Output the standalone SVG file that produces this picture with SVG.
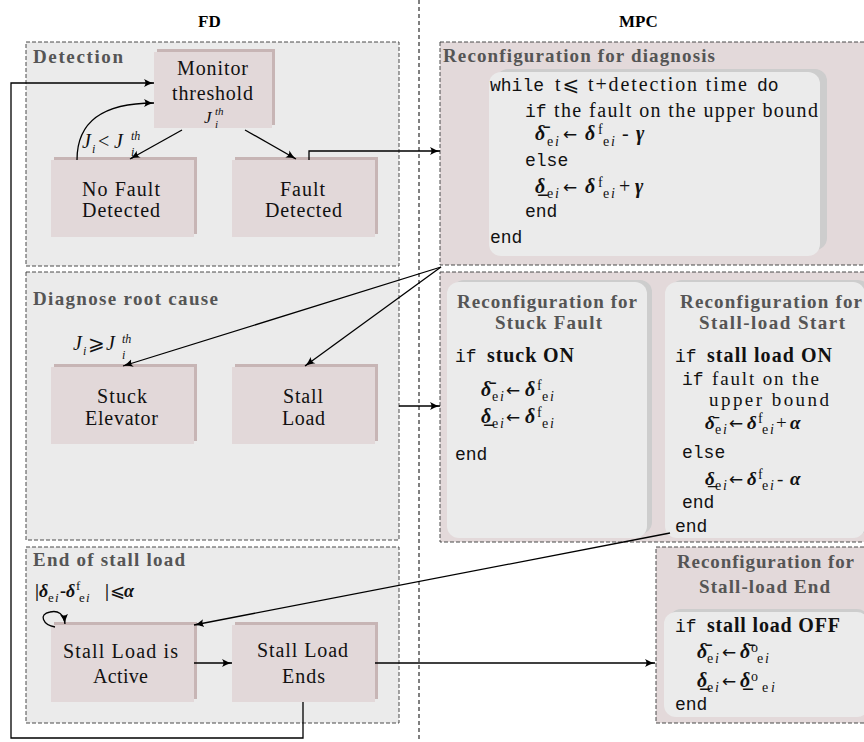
<svg xmlns="http://www.w3.org/2000/svg" width="864" height="742" viewBox="0 0 864 742">
<defs>
<style>
.grp{fill:#ebebeb;stroke:#4a4a4a;stroke-width:1;stroke-dasharray:4 2}
.mpc{fill:#e3d9da;stroke:#4a4a4a;stroke-width:1;stroke-dasharray:4 2}
.node{fill:#e2d8d9}
.nsh{fill:#c7b5b5}
.inner{fill:#ebebeb}
.insh{fill:#cdcdcd}
.title{font-family:'Liberation Serif','DejaVu Serif',serif;font-weight:bold;font-size:19px;fill:#555}
.head{font-family:'Liberation Serif','DejaVu Serif',serif;font-weight:bold;font-size:17px;fill:#000}
.lbl{font-family:'Liberation Serif','DejaVu Serif',serif;font-size:20px;fill:#111}
.code{font-family:'Liberation Mono','DejaVu Sans Mono',monospace;font-size:18px;fill:#111}
.m{font-family:'Liberation Serif','DejaVu Serif','DejaVu Sans',serif;font-size:20px;fill:#111}
.b{font-weight:bold}
.bi{font-weight:bold;font-style:italic}
.it{font-style:italic}
.n{font-style:normal}
.sb{font-size:14px}
.s11{font-size:11px}
.s12{font-size:12px}
.s13{font-size:13px}
.s17{font-size:17px}
.s18{font-size:18px}
.s19{font-size:19px}
.ar{font-family:'DejaVu Sans',sans-serif;font-size:17px;font-style:normal}
.conn{fill:none;stroke:#000;stroke-width:1.3}
.div{fill:none;stroke:#000;stroke-width:1;stroke-dasharray:4 3}
</style>
<marker id="ah" markerUnits="userSpaceOnUse" markerWidth="12" markerHeight="10" refX="10" refY="5" orient="auto">
<path d="M0,1 Q5,4 10,5 Q5,6 0,9 Q3,5 0,1 Z" fill="#000"/>
</marker>
</defs>

<rect width="864" height="742" fill="#fff"/>
<path class="div" d="M419,0 L419,742"/>

<text class="head" x="198" y="27">FD</text>
<text class="head" x="619" y="27">MPC</text>

<g id="grp-detection">
<rect class="grp" x="26" y="42" width="373" height="224"/>
<text class="title" x="33" y="63" textLength="90">Detection</text>
</g>
<g id="grp-diagnose">
<rect class="grp" x="26" y="272" width="373" height="268"/>
<text class="title" x="33" y="305" textLength="185">Diagnose root cause</text>
</g>
<g id="grp-end">
<rect class="grp" x="26" y="547" width="373" height="176"/>
<text class="title" x="33" y="566" textLength="152">End of stall load</text>
</g>

<g id="mpc-diagnosis">
<rect class="mpc" x="440" y="42" width="430" height="223"/>
<text class="title" x="443" y="62" textLength="272">Reconfiguration for diagnosis</text>
<rect class="insh" x="496" y="69" width="331" height="181" rx="12"/>
<rect class="inner" x="489" y="72" width="331" height="184" rx="12"/>
<text class="code" x="490" y="91">while</text>
<text class="m" x="555" y="91" textLength="192">t⩽ t+detection time</text>
<text class="code" x="757" y="91">do</text>
<text class="code" x="525" y="117">if</text>
<text class="m" x="554" y="117" textLength="264">the fault on the upper bound</text>
<text class="m" y="140"><tspan class="bi" x="535">δ̄</tspan><tspan class="sb" x="547" dy="6">e</tspan><tspan class="sb it" x="555">i</tspan><tspan class="ar" x="563" dy="-6">←</tspan><tspan class="bi" x="585">δ</tspan><tspan class="sb" x="598" dy="-6">f</tspan><tspan class="sb" x="603" dy="12">e</tspan><tspan class="sb it" x="611">i</tspan><tspan x="622" dy="-6">-</tspan><tspan class="bi" x="636">γ</tspan></text>
<text class="code" x="525" y="166">else</text>
<text class="m" y="193"><tspan class="bi" x="535">δ̲</tspan><tspan class="sb" x="547" dy="5">e</tspan><tspan class="sb it" x="555">i</tspan><tspan class="ar" x="563" dy="-5">←</tspan><tspan class="bi" x="585">δ</tspan><tspan class="sb" x="598" dy="-6">f</tspan><tspan class="sb" x="603" dy="11">e</tspan><tspan class="sb it" x="611">i</tspan><tspan x="619" dy="-5">+</tspan><tspan class="bi" x="635">γ</tspan></text>
<text class="code" x="525" y="217">end</text>
<text class="code" x="490" y="243">end</text>
</g>

<g id="mpc-middle">
<rect class="mpc" x="440" y="272" width="430" height="270"/>
</g>

<g id="mpc-stuck">
<rect class="insh" x="452" y="280" width="200" height="254" rx="12"/>
<rect class="inner" x="447" y="282" width="200" height="256" rx="12"/>
<text class="title" x="457" y="308" textLength="180">Reconfiguration for</text>
<text class="title" x="495" y="329" textLength="107">Stuck Fault</text>
<text class="code" x="455" y="362">if</text>
<text class="m b" x="487" y="362" textLength="87">stuck ON</text>
<text class="m" y="396"><tspan class="bi" x="481">δ̄</tspan><tspan class="sb" x="492" dy="5">e</tspan><tspan class="sb it" x="500">i</tspan><tspan class="ar" x="506" dy="-5">←</tspan><tspan class="bi" x="525">δ</tspan><tspan class="sb" x="537" dy="-6">f</tspan><tspan class="sb" x="542" dy="11">e</tspan><tspan class="sb it" x="550">i</tspan></text>
<text class="m" y="423"><tspan class="bi" x="481">δ̲</tspan><tspan class="sb" x="492" dy="5">e</tspan><tspan class="sb it" x="500">i</tspan><tspan class="ar" x="506" dy="-5">←</tspan><tspan class="bi" x="525">δ</tspan><tspan class="sb" x="537" dy="-6">f</tspan><tspan class="sb" x="542" dy="11">e</tspan><tspan class="sb it" x="550">i</tspan></text>
<text class="code" x="455" y="460">end</text>
</g>

<g id="mpc-stall-start">
<rect class="insh" x="670" y="280" width="200" height="254" rx="12"/>
<rect class="inner" x="665" y="282" width="200" height="256" rx="12"/>
<text class="title" x="680" y="308" textLength="182">Reconfiguration for</text>
<text class="title" x="699" y="329" textLength="146">Stall-load Start</text>
<text class="code" x="675" y="362">if</text>
<text class="m b" x="707" y="362" textLength="125">stall load ON</text>
<text class="code" x="682" y="385">if</text>
<text class="m s19" x="712" y="385" textLength="107">fault on the</text>
<text class="m s19" x="709" y="406" textLength="120">upper bound</text>
<text class="m s19" y="429"><tspan class="bi" x="705">δ̄</tspan><tspan class="sb" x="715" dy="5">e</tspan><tspan class="sb it" x="723">i</tspan><tspan class="ar" x="729" dy="-5">←</tspan><tspan class="bi" x="747">δ</tspan><tspan class="sb" x="758" dy="-6">f</tspan><tspan class="sb" x="762" dy="11">e</tspan><tspan class="sb it" x="770">i</tspan><tspan x="776" dy="-5">+</tspan><tspan class="bi" x="790">α</tspan></text>
<text class="code" x="682" y="458">else</text>
<text class="m s19" y="485"><tspan class="bi" x="705">δ̲</tspan><tspan class="sb" x="715" dy="5">e</tspan><tspan class="sb it" x="723">i</tspan><tspan class="ar" x="729" dy="-5">←</tspan><tspan class="bi" x="747">δ</tspan><tspan class="sb" x="758" dy="-6">f</tspan><tspan class="sb" x="762" dy="11">e</tspan><tspan class="sb it" x="770">i</tspan><tspan x="777" dy="-5">-</tspan><tspan class="bi" x="790">α</tspan></text>
<text class="code" x="682" y="508">end</text>
<text class="code" x="675" y="532">end</text>
</g>

<g id="mpc-stall-end">
<rect class="mpc" x="656" y="547" width="214" height="176"/>
<text class="title" x="677" y="568" textLength="177">Reconfiguration for</text>
<text class="title" x="699" y="593" textLength="131">Stall-load End</text>
<rect class="insh" x="669" y="609" width="200" height="104" rx="12"/>
<rect class="inner" x="664" y="612" width="205" height="105" rx="12"/>
<text class="code" x="675" y="632">if</text>
<text class="m b" x="707" y="632" textLength="133">stall load OFF</text>
<text class="m" y="658"><tspan class="bi" x="697">δ̄</tspan><tspan class="sb" x="707" dy="5">e</tspan><tspan class="sb it" x="715">i</tspan><tspan class="ar" x="722" dy="-5">←</tspan><tspan class="bi" x="740">δ̄</tspan><tspan class="sb" x="751" dy="-6">o</tspan><tspan class="sb" x="757" dy="11">e</tspan><tspan class="sb it" x="765">i</tspan></text>
<text class="m" y="687"><tspan class="bi" x="697">δ̲</tspan><tspan class="sb" x="707" dy="5">e</tspan><tspan class="sb it" x="715">i</tspan><tspan class="ar" x="722" dy="-5">←</tspan><tspan class="bi" x="740">δ̲</tspan><tspan class="sb" x="751" dy="-6">o</tspan><tspan class="sb" x="762" dy="11">e</tspan><tspan class="sb it" x="771">i</tspan></text>
<text class="code" x="675" y="710">end</text>
</g>

<g id="n-monitor">
<rect class="nsh" x="157" y="49" width="118" height="76"/>
<rect class="node" x="154" y="52" width="118" height="76"/>
<text class="lbl" x="177" y="75" textLength="71">Monitor</text>
<text class="lbl" x="172" y="100" textLength="81">threshold</text>
<text class="m it"><tspan class="s17" x="204" y="123">J</tspan><tspan class="s11" x="215" y="115">th</tspan><tspan class="s11" x="215" y="128">i</tspan></text>
</g>
<g id="n-nofault">
<rect class="nsh" x="54" y="157" width="143" height="77"/>
<rect class="node" x="51" y="160" width="143" height="77"/>
<text class="lbl" x="82" y="196" textLength="78">No Fault</text>
<text class="lbl" x="82" y="217" textLength="78">Detected</text>
</g>
<g id="n-fault">
<rect class="nsh" x="235" y="157" width="143" height="77"/>
<rect class="node" x="232" y="160" width="143" height="77"/>
<text class="lbl" x="280" y="196" textLength="45">Fault</text>
<text class="lbl" x="265" y="217" textLength="77">Detected</text>
</g>
<g id="n-stuck">
<rect class="nsh" x="54" y="364" width="143" height="77"/>
<rect class="node" x="51" y="367" width="143" height="77"/>
<text class="lbl" x="97" y="403" textLength="50">Stuck</text>
<text class="lbl" x="85" y="425" textLength="73">Elevator</text>
</g>
<g id="n-stall">
<rect class="nsh" x="235" y="364" width="143" height="77"/>
<rect class="node" x="232" y="367" width="143" height="77"/>
<text class="lbl" x="283" y="403" textLength="40">Stall</text>
<text class="lbl" x="282" y="425" textLength="43">Load</text>
</g>
<g id="n-active">
<rect class="nsh" x="54" y="622" width="143" height="77"/>
<rect class="node" x="51" y="625" width="143" height="77"/>
<text class="lbl" x="63" y="658" textLength="115">Stall Load is</text>
<text class="lbl" x="93" y="683" textLength="55">Active</text>
</g>
<g id="n-ends">
<rect class="nsh" x="235" y="622" width="143" height="77"/>
<rect class="node" x="232" y="625" width="143" height="77"/>
<text class="lbl" x="257" y="657" textLength="91">Stall Load</text>
<text class="lbl" x="282" y="683" textLength="43">Ends</text>
</g>

<g id="labels">
<text class="m it"><tspan x="82" y="148">J</tspan><tspan class="s12" x="92" y="153">i</tspan><tspan class="n" x="98" y="148">&lt;</tspan><tspan x="114" y="148">J</tspan><tspan class="s12" x="131" y="140">th</tspan><tspan class="s12" x="131" y="156">i</tspan></text>
<text class="m it"><tspan x="73" y="350">J</tspan><tspan class="s12" x="83" y="355">i</tspan><tspan class="n" x="88" y="350">⩾</tspan><tspan x="106" y="350">J</tspan><tspan class="s12" x="122" y="343">th</tspan><tspan class="s12" x="122" y="359">i</tspan></text>
<text class="m s18" y="597"><tspan class="b" x="35">|</tspan><tspan class="bi" x="39">δ</tspan><tspan class="s13" x="48" dy="5">e</tspan><tspan class="s13 it" x="55">i</tspan><tspan class="b" x="60" dy="-5">-</tspan><tspan class="bi" x="66">δ</tspan><tspan class="s13" x="76" dy="-7">f</tspan><tspan class="s13" x="79" dy="12">e</tspan><tspan class="s13 it" x="86">i</tspan><tspan class="b" x="105" dy="-5">|</tspan><tspan x="110">⩽</tspan><tspan class="bi" x="124">α</tspan></text>
</g>

<g id="connectors">
<path class="conn" d="M303,702 L303,738 L11,738 L11,83 L154,83" marker-end="url(#ah)"/>
<path class="conn" d="M77,160 C77,122 102,103 154,103" marker-end="url(#ah)"/>
<path class="conn" d="M182,130 L130,159" marker-end="url(#ah)"/>
<path class="conn" d="M245,130 L296,159" marker-end="url(#ah)"/>
<path class="conn" d="M309,160 L309,151 L440,151" marker-end="url(#ah)"/>
<path class="conn" d="M441,267 L123,366" marker-end="url(#ah)"/>
<path class="conn" d="M441,267 L305,366" marker-end="url(#ah)"/>
<path class="conn" d="M399,406 L440,406" marker-end="url(#ah)"/>
<path class="conn" d="M670,533 L194,625" marker-end="url(#ah)"/>
<path class="conn" d="M55,627 C43,625 38,614 50,612 C58,610 64,614 65,624" marker-end="url(#ah)"/>
<path class="conn" d="M194,663 L232,663" marker-end="url(#ah)"/>
<path class="conn" d="M375,663 L655,663" marker-end="url(#ah)"/>
</g>
</svg>
